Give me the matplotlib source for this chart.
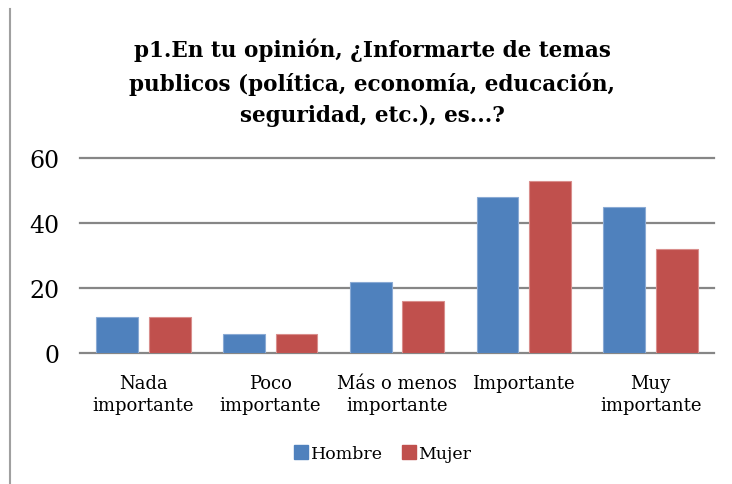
import matplotlib
matplotlib.use("Agg")
import matplotlib.pyplot as plt
import numpy as np
from matplotlib.lines import Line2D

# -----------------------------
# Data
# -----------------------------
CATEGORIES = [
    "Nada\nimportante",
    "Poco\nimportante",
    "Más o menos\nimportante",
    "Importante",
    "Muy\nimportante",
]
HOMBRE = [11, 6, 22, 48, 45]
MUJER = [11, 6, 16, 53, 32]
SERIES = ["Hombre", "Mujer"]
Y_TICKS = [0, 20, 40, 60]
TITLE = ("p1.En tu opinión, ¿Informarte de temas\n"
         "publicos (política, economía, educación,\n"
         "seguridad, etc.), es...?")

# -----------------------------
# Style
# -----------------------------
BLUE = "#4F81BD"
RED = "#C0504D"
GRID = "#868686"
TEXT = "#000000"
FONT = ["DejaVu Serif"]

plt.rcParams.update({
    "font.family": FONT,
})

fig = plt.figure(figsize=(7.32, 4.85), dpi=100)
ax = fig.add_axes([80 / 732, 1 - 354 / 485, 634 / 732, 195 / 485])

x = np.arange(len(CATEGORIES))
width = 0.33
off = 0.207

ax.bar(x - off, HOMBRE, width, color=BLUE, edgecolor="#8AAAD4",
       linewidth=0.8, label=SERIES[0], zorder=3)
ax.bar(x + off, MUJER, width, color=RED, edgecolor="#D98E8C",
       linewidth=0.8, label=SERIES[1], zorder=3)

ax.set_xlim(-0.5, len(CATEGORIES) - 0.5)
ax.set_ylim(0, 60)
ax.set_yticks(Y_TICKS)
ax.set_yticklabels([str(v) for v in Y_TICKS], fontsize=17)
ax.set_xticks(x)
ax.set_xticklabels(CATEGORIES, fontsize=13, linespacing=1.3)
ax.tick_params(axis="both", length=0, colors=TEXT)
ax.tick_params(axis="y", pad=15)
ax.tick_params(axis="x", pad=15)

# gridlines (drawn unclipped so the top and bottom ones keep full width)
for v in Y_TICKS:
    ax.axhline(v, color=GRID, linewidth=1.6, zorder=1, clip_on=False)
for s in ax.spines.values():
    s.set_visible(False)

fig.text(372 / 732, 1 - 83 / 485, TITLE, ha="center", va="center",
         fontsize=15.5, fontweight="bold", linespacing=1.55, color=TEXT)

handles = [
    Line2D([], [], marker="s", linestyle="none", markersize=10,
           markerfacecolor=BLUE, markeredgecolor=BLUE),
    Line2D([], [], marker="s", linestyle="none", markersize=10,
           markerfacecolor=RED, markeredgecolor=RED),
]
fig.legend(handles, SERIES, loc="center", bbox_to_anchor=(382 / 732, 1 - 455 / 485),
           ncol=2, frameon=False, fontsize=12.5, handletextpad=0.05,
           columnspacing=1.0, handlelength=1.0)

# left border line of the chart frame
fig.add_artist(Line2D([10 / 732, 10 / 732], [0, 1 - 10 / 485],
                      transform=fig.transFigure, color="#A0A0A0", linewidth=1.5))

fig.savefig("out.png", dpi=100)
